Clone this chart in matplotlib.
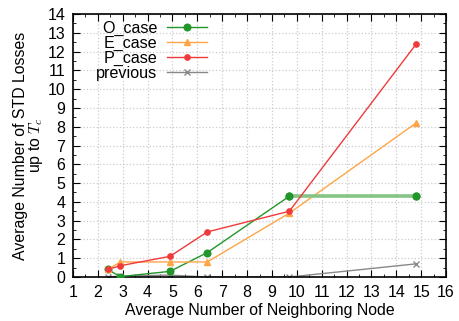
import matplotlib
matplotlib.use("Agg")
import matplotlib.pyplot as plt
from matplotlib.ticker import MultipleLocator

plt.rcParams['font.family'] = ['Liberation Sans', 'DejaVu Sans']
plt.rcParams['mathtext.fontset'] = 'cm'

x_vals = [2.4, 2.9, 4.9, 6.4, 9.7, 14.8]
o_case = [0.4, 0.02, 0.3, 1.3, 4.3, 4.3]
e_case = [0.4, 0.8, 0.8, 0.8, 3.4, 8.2]
p_case = [0.4, 0.6, 1.1, 2.4, 3.5, 12.4]
previous = [0.0, 0.05, 0.1, 0.0, 0.0, 0.7]

fig = plt.figure(figsize=(4.6, 3.21), dpi=100)
ax = fig.add_axes([73/460, 1-277/321, (446-73)/460, (277-14)/321])

green = '#22962a'
ax.plot(x_vals, o_case, color=green, marker='o', markersize=4.8, lw=1, label='O_case', zorder=3)
ax.plot(x_vals[4:], o_case[4:], color='#86c486', lw=2.6, solid_capstyle='butt', zorder=3.1)
ax.plot(x_vals[4:], o_case[4:], color=green, marker='o', markersize=4.8, lw=0, zorder=3.2)
ax.plot(x_vals, e_case, color='#ffa546', marker='^', markersize=4.2, lw=1, label='E_case', zorder=3)
ax.plot(x_vals, p_case, color='#f03a3a', marker='o', markersize=3.8, lw=1, label='P_case', zorder=4)
ax.plot(x_vals, previous, color='#888888', marker='x', markersize=4.5, lw=1, label='previous', zorder=2)

ax.set_xlim(1, 16)
ax.set_ylim(0, 14)
ax.xaxis.set_major_locator(MultipleLocator(1))
ax.xaxis.set_minor_locator(MultipleLocator(0.5))
ax.yaxis.set_major_locator(MultipleLocator(1))
ax.yaxis.set_minor_locator(MultipleLocator(0.5))
ax.tick_params(which='both', direction='in', top=True, right=True, labelsize=11.5, pad=5.5)
ax.tick_params(which='major', length=5)
ax.tick_params(which='minor', length=2.5)
ax.grid(True, which='major', color='#cccccc', linestyle=':', linewidth=0.9)
for s in ax.spines.values():
    s.set_linewidth(1.2)

ax.set_xlabel('Average Number of Neighboring Node', fontsize=11.4, labelpad=2.5)
ax.set_ylabel('Average Number of STD Losses\nup to $T_c$', fontsize=11.4, labelpad=1.5, linespacing=0.95)

leg = ax.legend(loc='upper left', frameon=False, markerfirst=False, fontsize=11.6,
                handlelength=2.5, labelspacing=0.0, borderaxespad=0.0, handletextpad=0.6,
                bbox_to_anchor=(0.045, 1.0))
for col in leg._legend_box.get_children()[1].get_children():
    col.align = 'right'

fig.savefig('out.png', dpi=100)
